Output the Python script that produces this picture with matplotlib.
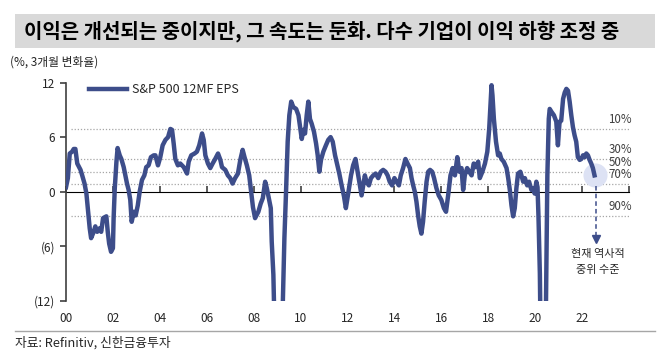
import matplotlib
matplotlib.use("Agg")
import matplotlib.pyplot as plt
from matplotlib.lines import Line2D

plt.rcParams['font.family'] = ['Noto Sans CJK KR', 'DejaVu Sans']

# ---------------- data ----------------
years = [
    2000.00, 2000.08, 2000.16, 2000.26, 2000.33, 2000.40, 2000.48, 2000.62, 2000.69, 2000.79,
    2000.87, 2000.93, 2001.01, 2001.07, 2001.18, 2001.25, 2001.33, 2001.44, 2001.50, 2001.58,
    2001.72, 2001.78, 2001.84, 2001.92, 2002.00, 2002.03, 2002.08, 2002.15, 2002.20, 2002.29,
    2002.36, 2002.46, 2002.53, 2002.60, 2002.67, 2002.74, 2002.80, 2002.89, 2002.97, 2003.06,
    2003.14, 2003.24, 2003.34, 2003.42, 2003.52, 2003.62, 2003.74, 2003.81, 2003.92, 2004.02,
    2004.12, 2004.24, 2004.35, 2004.45, 2004.52, 2004.59, 2004.66, 2004.77, 2004.87, 2005.02,
    2005.16, 2005.23, 2005.34, 2005.48, 2005.58, 2005.68, 2005.80, 2005.87, 2005.94, 2006.05,
    2006.15, 2006.25, 2006.36, 2006.48, 2006.58, 2006.65, 2006.79, 2006.90, 2007.00, 2007.10,
    2007.21, 2007.33, 2007.43, 2007.53, 2007.61, 2007.71, 2007.81, 2007.89, 2007.97, 2008.06,
    2008.20, 2008.30, 2008.39, 2008.49, 2008.56, 2008.63, 2008.73, 2008.77, 2008.84, 2008.95,
    2009.15, 2009.31, 2009.38, 2009.45, 2009.52, 2009.60, 2009.69, 2009.81, 2009.91, 2009.98,
    2010.05, 2010.12, 2010.19, 2010.26, 2010.33, 2010.40, 2010.47, 2010.57, 2010.66, 2010.73,
    2010.80, 2010.87, 2010.97, 2011.08, 2011.18, 2011.28, 2011.37, 2011.47, 2011.57, 2011.65,
    2011.75, 2011.85, 2011.93, 2012.03, 2012.15, 2012.24, 2012.34, 2012.43, 2012.53, 2012.60,
    2012.67, 2012.74, 2012.81, 2012.91, 2013.00, 2013.10, 2013.20, 2013.31, 2013.42, 2013.52,
    2013.62, 2013.71, 2013.80, 2013.90, 2014.00, 2014.09, 2014.19, 2014.27, 2014.37, 2014.47,
    2014.56, 2014.66, 2014.73, 2014.80, 2014.87, 2014.94, 2015.01, 2015.08, 2015.15, 2015.22,
    2015.29, 2015.37, 2015.44, 2015.52, 2015.61, 2015.69, 2015.79, 2015.89, 2016.00, 2016.11,
    2016.20, 2016.29, 2016.39, 2016.48, 2016.58, 2016.68, 2016.77, 2016.86, 2016.93, 2017.00,
    2017.10, 2017.19, 2017.29, 2017.38, 2017.47, 2017.57, 2017.64, 2017.75, 2017.86, 2017.96,
    2018.04, 2018.10, 2018.14, 2018.18, 2018.24, 2018.33, 2018.42, 2018.49, 2018.56, 2018.66,
    2018.78, 2018.85, 2018.92, 2018.99, 2019.06, 2019.13, 2019.20, 2019.27, 2019.37, 2019.49,
    2019.56, 2019.66, 2019.74, 2019.84, 2019.91, 2019.98, 2020.05, 2020.10, 2020.14, 2020.20,
    2020.26, 2020.42, 2020.52, 2020.58, 2020.62, 2020.69, 2020.80, 2020.90, 2020.97, 2021.04,
    2021.11, 2021.19, 2021.26, 2021.33, 2021.40, 2021.47, 2021.54, 2021.61, 2021.68, 2021.75,
    2021.82, 2021.90, 2021.97, 2022.04, 2022.11, 2022.18, 2022.25, 2022.32, 2022.39, 2022.46,
    2022.53,
]
eps_3m_chg = [
    0.5, 1.5, 4.2, 4.4, 4.7, 4.7, 3.1, 2.4, 1.8, 0.9,
    -0.2, -1.8, -4.0, -5.1, -4.4, -3.8, -4.4, -4.0, -4.4, -2.9,
    -2.7, -4.4, -5.7, -6.6, -6.2, -2.9, 0.4, 3.3, 4.8, 4.0,
    3.6, 2.7, 1.8, 0.9, 0.2, -0.9, -3.3, -2.2, -2.6, -1.5,
    0.0, 1.3, 1.8, 2.7, 2.9, 3.8, 4.0, 4.0, 2.9, 3.8,
    5.1, 5.7, 6.0, 6.9, 6.8, 5.3, 3.6, 2.9, 3.1, 2.7,
    2.0, 3.3, 4.0, 4.2, 4.4, 5.1, 6.4, 5.7, 4.0, 3.1,
    2.6, 3.1, 3.6, 4.2, 3.5, 2.7, 2.4, 1.8, 1.5, 0.9,
    1.5, 2.0, 3.5, 4.6, 3.8, 2.9, 1.8, 0.0, -1.7, -2.9,
    -2.2, -1.3, -0.7, 1.1, 0.4, -0.5, -1.8, -5.5, -9.1, -22.0,
    -22.0, -5.1, 0.0, 5.5, 8.4, 9.9, 9.3, 9.1, 8.4, 7.1,
    5.8, 6.8, 6.4, 8.4, 9.9, 8.0, 7.5, 6.6, 5.3, 4.0,
    2.2, 3.5, 4.4, 5.1, 5.7, 6.0, 5.5, 4.0, 2.9, 2.0,
    0.7, -0.5, -1.8, -0.2, 1.8, 2.9, 3.6, 2.2, 0.7, -0.4,
    0.7, 1.8, 1.1, 0.7, 1.5, 1.8, 2.0, 1.5, 2.2, 2.4,
    2.2, 1.8, 1.1, 0.7, 1.5, 1.1, 0.7, 1.8, 2.6, 3.6,
    3.1, 2.6, 1.5, 0.7, 0.0, -1.1, -2.6, -3.8, -4.6, -3.3,
    -1.1, 1.1, 2.2, 2.4, 2.2, 1.5, 0.4, -0.4, -0.9, -1.8,
    -2.2, -0.4, 1.8, 2.6, 1.8, 3.8, 2.2, 2.6, 0.2, 1.8,
    2.6, 2.2, 1.8, 3.1, 2.7, 3.3, 1.5, 2.2, 3.1, 4.4,
    6.9, 9.9, 11.7, 10.6, 8.0, 5.5, 4.0, 4.2, 3.6, 3.3,
    2.6, 1.5, 0.2, -1.5, -2.7, -1.8, 0.4, 2.0, 2.2, 1.1,
    1.5, 0.7, 1.1, 0.2, 0.4, -0.2, 1.1, 0.5, -2.6, -9.0,
    -22.0, -22.0, 1.8, 8.0, 9.1, 8.8, 8.4, 7.7, 5.1, 7.7,
    7.8, 10.2, 10.9, 11.3, 11.1, 9.9, 8.4, 7.1, 6.2, 5.5,
    3.8, 3.5, 3.6, 4.0, 3.8, 4.2, 4.0, 3.5, 3.1, 2.6,
    1.8,
]
pct_levels = [6.9, 3.6, 2.2, 0.85, -2.7]
pct_labels = ['10%', '30%', '50%', '70%', '90%']
ytick_vals = [-12, -6, 0, 6, 12]
ytick_labels = ['(12)', '(6)', '0', '6', '12']
xtick_vals = list(range(2000, 2023, 2))
xtick_labels = ['00', '02', '04', '06', '08', '10', '12', '14', '16', '18', '20', '22']

title_text = '이익은 개선되는 중이지만, 그 속도는 둔화. 다수 기업이 이익 하향 조정 중'
series_name = 'S&P 500 12MF EPS'
unit_text = '(%, 3개월 변화율)'
note_text = '현재 역사적\n중위 수준'
source_text = '자료: Refinitiv, 신한금융투자'

# ---------------- styling ----------------
LINE_C = '#3d4d8a'
W, H = 670, 361
fig = plt.figure(figsize=(W / 100, H / 100), dpi=100)
fig.patch.set_facecolor('white')

ax_l, ax_r, ax_t, ax_b = 66, 629, 82.5, 301
ax = fig.add_axes([ax_l / W, 1 - ax_b / H, (ax_r - ax_l) / W, (ax_b - ax_t) / H])
ax.set_xlim(2000, 2024)
ax.set_ylim(-12, 12)

# percentile dotted lines
for lv, lb in zip(pct_levels, pct_labels):
    ax.axhline(lv, xmin=0.008, xmax=1.0, color='#a6a6a6', lw=0.9, ls=(0, (1, 1.5)), zorder=1)
    ax.text(1.005, lv + 0.35, lb, transform=ax.get_yaxis_transform(), ha='right', va='bottom',
            fontsize=8.3, color='#404040')

# highlight circle at latest point
ax.scatter([years[-1]], [eps_3m_chg[-1]], s=300, color='#dde2f4', zorder=2, linewidths=0)

ax.plot(years, eps_3m_chg, color=LINE_C, lw=3.2, solid_joinstyle='round', zorder=3)

# dashed arrow down from the latest point
arrow_top = eps_3m_chg[-1] - 1.2
arrow_bot = -5.0
ax.plot([years[-1] + 0.08] * 2, [arrow_top, arrow_bot], color=LINE_C, lw=1.1, ls=(0, (3, 2)), zorder=3)
ax.plot([years[-1] + 0.08], [arrow_bot - 0.2], marker='v', ms=6, color=LINE_C, zorder=3)
ax.text(years[-1] + 0.15, -6.3, note_text, ha='center', va='top', fontsize=8, color='#262626',
        linespacing=1.75)

# axes styling
for s in ['top', 'right']:
    ax.spines[s].set_visible(False)
ax.spines['left'].set_color('#404040')
ax.spines['left'].set_linewidth(1.2)
ax.spines['bottom'].set_visible(False)

ax.set_yticks(ytick_vals)
ax.set_yticklabels(ytick_labels)
ax.tick_params(axis='y', direction='out', length=4, width=1.2, color='#404040',
               labelsize=8.5, labelcolor='#262626', pad=4)

# x labels at bottom
ax.set_xticks(xtick_vals)
ax.set_xticklabels(xtick_labels)
ax.tick_params(axis='x', length=0, labelsize=8.5, labelcolor='#262626', pad=8)

# zero line with ticks (secondary axis at y=0, which is the middle)
sec = ax.secondary_xaxis(0.5)
sec.set_xticks(list(range(2000, 2025, 2)))
sec.set_xticklabels([])
sec.tick_params(axis='x', direction='out', length=4, width=1.2, color='#404040')
sec.spines['bottom'].set_color('#595959')
sec.spines['bottom'].set_linewidth(1.2)

ax.set_facecolor('none')

# legend
handle = Line2D([], [], color=LINE_C, lw=3.2)
leg = ax.legend([handle], [series_name], loc='upper left', bbox_to_anchor=((84 - ax_l) / (ax_r - ax_l), 1.02),
                frameon=False, handlelength=3.0, handletextpad=0.45, fontsize=9, borderaxespad=0)
for t in leg.get_texts():
    t.set_color('#262626')

# title bar
fig.patches.append(plt.Rectangle((15 / W, 1 - 48 / H), 640 / W, 34 / H, transform=fig.transFigure,
                                 facecolor='#d9d9d9', edgecolor='none', zorder=0))
fig.text(24 / W, 1 - 31 / H, title_text, fontsize=14.4, fontweight='bold', color='#000000',
         ha='left', va='center')

fig.text(10 / W, 1 - 62 / H, unit_text, fontsize=8.5, color='#262626', ha='left', va='center')

# bottom rule and source
fig.add_artist(Line2D([15 / W, 655 / W], [1 - 331 / H] * 2, transform=fig.transFigure,
                      color='#a6a6a6', lw=1))
fig.text(15 / W, 1 - 343 / H, source_text, fontsize=9.2, color='#262626', ha='left', va='center')

fig.savefig('out.png', dpi=100)
